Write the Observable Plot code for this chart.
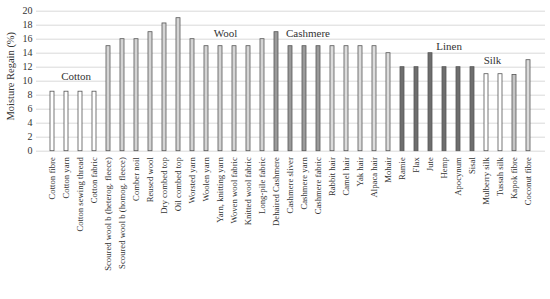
<!DOCTYPE html>
<html>
<head>
<meta charset="utf-8">
<script src="https://cdn.jsdelivr.net/npm/d3@7"></script>
<script src="https://cdn.jsdelivr.net/npm/@observablehq/plot@0.6"></script>
<style>
  body { margin: 0; background: #fff; }
  svg { font-family: "Liberation Serif", serif; }
</style>
</head>
<body>
<div id="chart"></div>
<script>
const categories = [
  "Cotton fibre", "Cotton yarn", "Cotton sewing thread", "Cotton fabric",
  "Scoured wool b (heterog. fleece)", "Scoured wool b (homog. fleece)", "Comber noil", "Reused wool",
  "Dry combed top", "Oil combed top", "Worsted yarn", "Woolen yarn", "Yarn, knitting yarn",
  "Woven wool fabric", "Knitted wool fabric", "Long-pile fabric",
  "Dehaired Cashmere", "Cashmere sliver", "Cashmere yarn", "Cashmere fabric",
  "Rabbit hair", "Camel hair", "Yak hair", "Alpaca hair", "Mohair",
  "Ramie", "Flax", "Jute", "Hemp", "Apocynum", "Sisal",
  "Mulberry silk", "Tussah silk", "Kapok fibre", "Coconut fibre"
];
const regain = [
  8.5, 8.5, 8.5, 8.5,
  15, 16, 16, 17, 18.25, 19, 16, 15, 15, 15, 15, 16,
  17, 15, 15, 15,
  15, 15, 15, 15, 14,
  12, 12, 14, 12, 12, 12,
  11, 11, 10.9, 13
];
const groups = [
  "cotton", "cotton", "cotton", "cotton",
  "wool", "wool", "wool", "wool", "wool", "wool", "wool", "wool", "wool", "wool", "wool", "wool",
  "cashmere", "cashmere", "cashmere", "cashmere",
  "hair", "hair", "hair", "hair", "hair",
  "linen", "linen", "linen", "linen", "linen", "linen",
  "silk", "silk", "kapok", "coconut"
];
const groupLabels = ["Cotton", "Wool", "Cashmere", "Linen", "Silk"];
const groupLabelAnchor = ["Cotton sewing thread", "Yarn, knitting yarn", "Cashmere yarn", "Hemp", "Mulberry silk"];
const groupLabelLevel = [10.67, 16.8, 16.8, 15.0, 13.0];
const yTicks = [0, 2, 4, 6, 8, 10, 12, 14, 16, 18, 20];

const bars = categories.map((c, i) => ({category: c, value: regain[i], group: groups[i]}));
const labelDx = [-4.4, 5, 3.5, 4.6, 6];
const labelMarks = groupLabels.map((t, i) =>
  Plot.text([t], {x: () => groupLabelAnchor[i], y: () => groupLabelLevel[i], text: d => d,
    dx: labelDx[i], fontSize: 11, fill: "#333"})
);

const chart = Plot.plot({
  width: 550,
  height: 299,
  marginLeft: 36,
  marginRight: 5,
  marginTop: 10.7,
  marginBottom: 148.3,
  style: {fontFamily: "Liberation Serif, serif", color: "#333", background: "#fff"},
  x: {domain: categories, padding: 0.68, label: null},
  y: {domain: [0, 20], label: null},
  color: {
    domain: ["cotton", "wool", "cashmere", "hair", "linen", "silk", "kapok", "coconut"],
    range: ["#ffffff", "#d4d4d4", "#9a9a9a", "#dcdcdc", "#6e6e6e", "#ffffff", "#c4c4c4", "#dadada"]
  },
  marks: [
    Plot.gridY(yTicks, {stroke: "#d9d9d9", strokeOpacity: 1, strokeWidth: 1}),
    Plot.barY(bars, {x: "category", y: "value", fill: "group", stroke: "#555", strokeWidth: 0.8}),
    Plot.axisX({tickSize: 0, tickPadding: 6, tickRotate: -90, fontSize: 8.7, label: null, fill: "#333"}),
    Plot.axisY({ticks: yTicks, tickSize: 0, tickPadding: 4, fontSize: 10, label: null, fill: "#333", tickFormat: d3.format("d")}),
    ...labelMarks,
    Plot.text(["Moisture Regain (%)"], {frameAnchor: "left", dx: -26, dy: -5, rotate: -90, textAnchor: "middle", fontSize: 10.5, fill: "#333"})
  ]
});
document.getElementById("chart").appendChild(chart);
</script>
</body>
</html>
